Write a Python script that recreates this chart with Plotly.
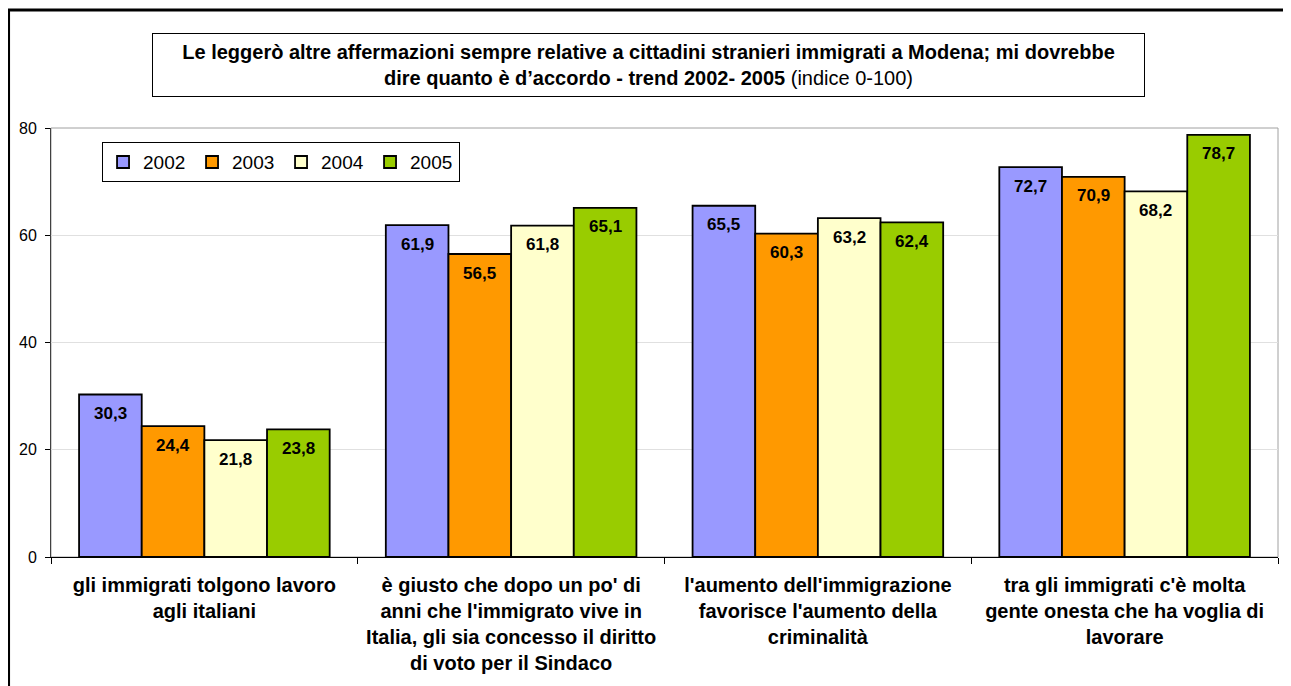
import plotly.graph_objects as go

categories = [
    "gli immigrati tolgono lavoro<br>agli italiani",
    "è giusto che dopo un po' di<br>anni che l'immigrato vive in<br>Italia, gli sia concesso il diritto<br>di voto per il Sindaco",
    "l'aumento dell'immigrazione<br>favorisce l'aumento della<br>criminalità",
    "tra gli immigrati c'è molta<br>gente onesta che ha voglia di<br>lavorare",
]
years = ["2002", "2003", "2004", "2005"]
v2002 = [30.3, 61.9, 65.5, 72.7]
v2003 = [24.4, 56.5, 60.3, 70.9]
v2004 = [21.8, 61.8, 63.2, 68.2]
v2005 = [23.8, 65.1, 62.4, 78.7]
series = [v2002, v2003, v2004, v2005]
colors = ["#9999FF", "#FF9900", "#FFFFCC", "#99CC00"]

FONT = "Liberation Sans, Arial, sans-serif"
BARGAP = 0.183

fig = go.Figure()
for name, vals, col in zip(years, series, colors):
    fig.add_trace(go.Bar(
        name=name, x=categories, y=vals,
        marker=dict(color=col, line=dict(color="black", width=1.8)),
    ))

annotations = []
w = (1 - BARGAP) / len(series)
for j, vals in enumerate(series):
    for i, v in enumerate(vals):
        annotations.append(dict(
            x=i + (j - (len(series) - 1) / 2) * w, y=v, xref="x", yref="y",
            text="<b>" + f"{v:.1f}".replace(".", ",") + "</b>",
            showarrow=False, yshift=-19,
            font=dict(family=FONT, size=17, color="black"),
        ))

annotations.append(dict(
    x=0.487, y=1.147, xref="paper", yref="paper",
    xanchor="center", yanchor="middle",
    text="<b>Le leggerò altre affermazioni sempre relative a cittadini stranieri immigrati a Modena; mi dovrebbe<br>"
         "dire quanto è d’accordo - trend 2002- 2005</b> (indice 0-100)",
    showarrow=False, align="center",
    font=dict(family=FONT, size=20, color="black"),
    bordercolor="black", borderwidth=1, bgcolor="white",
    width=985, height=56, borderpad=3,
))

shapes = [
    dict(type="rect", xref="paper", yref="paper", x0=0, x1=1, y0=0, y1=1,
         line=dict(color="#A0A0A0", width=1), layer="below"),
    dict(type="rect", xref="paper", yref="paper", x0=-0.0346, x1=1.03, y0=-0.35, y1=1.275,
         line=dict(color="black", width=3), layer="below"),
]

fig.update_layout(
    width=1283, height=678,
    barmode="group", bargap=BARGAP, bargroupgap=0,
    plot_bgcolor="white", paper_bgcolor="white",
    margin=dict(l=43, r=13, t=120, b=129),
    font=dict(family=FONT, color="black"),
    separators=",.",
    annotations=annotations, shapes=shapes,
    legend=dict(
        orientation="h", x=0.0416, y=0.967, xanchor="left", yanchor="top",
        bordercolor="black", borderwidth=1, bgcolor="white",
        font=dict(family=FONT, size=19, color="black"),
        itemwidth=30, entrywidth=44, entrywidthmode="pixels", traceorder="normal",
    ),
    showlegend=True,
)
fig.update_xaxes(
    type="category", tickson="boundaries", ticks="outside", ticklen=6,
    tickcolor="black", showline=True, linecolor="black", linewidth=1,
    tickfont=dict(family=FONT, size=20, color="black", weight="bold"),
    ticklabelstandoff=10,
    showgrid=False,
)
fig.update_yaxes(
    range=[0, 80], dtick=20, ticks="outside", ticklen=5, tickcolor="black",
    showline=True, linecolor="#404040", linewidth=1,
    showgrid=True, gridcolor="#E0E0E0", gridwidth=1,
    tickfont=dict(family=FONT, size=16, color="black"),
    ticklabelstandoff=5,
    zeroline=False,
)

fig.write_html("out.html")
